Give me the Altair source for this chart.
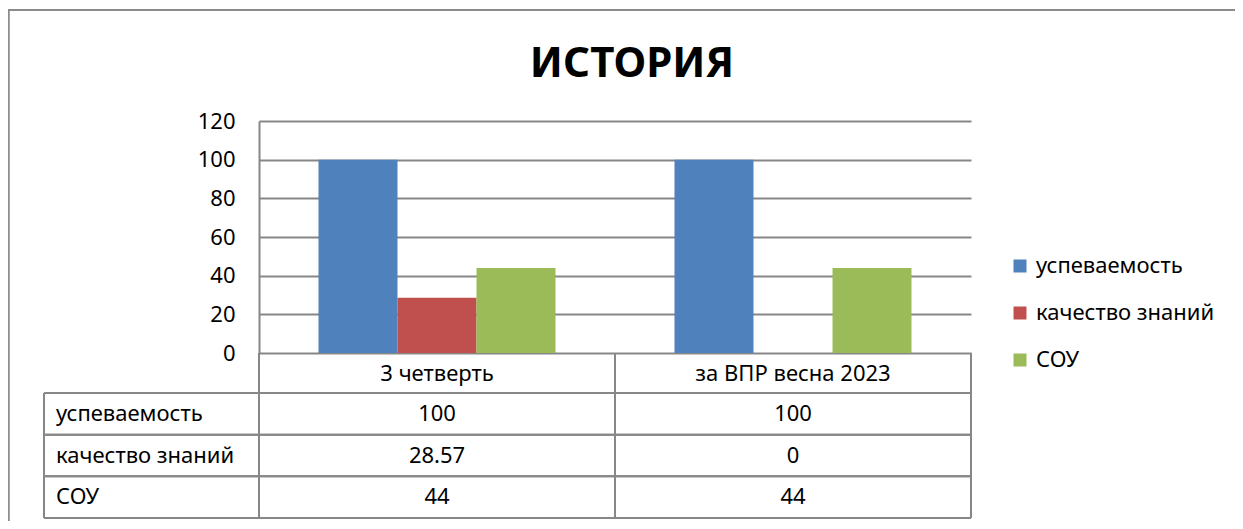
import altair as alt
import pandas as pd

title_text = ["ИСТОРИЯ"]
categories = ["3 четверть", "за ВПР весна 2023"]
series = ["успеваемость", "качество знаний", "СОУ"]
uspevaemost = [100, 100]
kachestvo = [28.57, 0]
sou = [44, 44]
colors = ["#4F81BD", "#C0504D", "#9BBB59"]
y_ticks = [0, 20, 40, 60, 80, 100, 120]

FONT = "Noto Sans"
GRID = "#878787"

values = {"успеваемость": uspevaemost, "качество знаний": kachestvo, "СОУ": sou}
rows = []
for s in series:
    for c, v in zip(categories, values[s]):
        rows.append({"cat": c, "series": s, "value": v, "label": f"{v:g}"})
df = pd.DataFrame(rows)
cat_df = pd.DataFrame({"cat": categories})
row_df = pd.DataFrame({"series": series})
title_df = pd.DataFrame({"t": title_text})

W, H = 712, 232
TABLE_TOP, TABLE_BOTTOM = 272, 397

x_scale = alt.Scale(domain=categories, paddingInner=0, paddingOuter=0)
row_scale = alt.Scale(domain=series, range=[TABLE_TOP, TABLE_BOTTOM], paddingInner=0, paddingOuter=0)

bars = alt.Chart(df).mark_bar().encode(
    x=alt.X("cat:N", scale=x_scale, axis=None),
    xOffset=alt.XOffset("series:N", sort=series,
                        scale=alt.Scale(domain=series, paddingInner=0, paddingOuter=0.753)),
    y=alt.Y("value:Q", scale=alt.Scale(domain=[0, 120], nice=False),
            axis=alt.Axis(values=y_ticks, title=None, ticks=False, grid=True,
                          gridColor=GRID, gridWidth=2, domainColor=GRID, domainWidth=2,
                          labelFontSize=22, labelFont=FONT, labelColor="#000000",
                          labelPadding=24)),
    color=alt.Color("series:N", scale=alt.Scale(domain=series, range=colors),
                    legend=alt.Legend(title=None, orient="none", legendX=750, legendY=134,
                                      symbolType="square", symbolSize=169, symbolStrokeWidth=0,
                                      labelFontSize=22, labelFont=FONT, labelColor="#000000",
                                      labelOffset=5, labelLimit=0, rowPadding=25, padding=0)),
)

title = alt.Chart(title_df).mark_text(font=FONT, fontSize=42, fontWeight="bold", color="#000000",
                                      baseline="alphabetic").encode(
    x=alt.value(373), y=alt.value(-44), text="t:N",
)

# table: header labels
header = alt.Chart(cat_df).mark_text(font=FONT, fontSize=22, color="#000000").encode(
    x=alt.X("cat:N", scale=x_scale, axis=None),
    y=alt.value(253),
    text="cat:N",
)

# table: values
cells = alt.Chart(df).mark_text(font=FONT, fontSize=22, color="#000000").encode(
    x=alt.X("cat:N", scale=x_scale, axis=None),
    y=alt.Y("series:N", scale=row_scale, axis=None),
    text="label:N",
)

# table: row labels
row_labels = alt.Chart(row_df).mark_text(font=FONT, fontSize=22, color="#000000", align="left").encode(
    x=alt.value(-203),
    y=alt.Y("series:N", scale=row_scale, axis=None),
    text="series:N",
)

# table lines
hlines_top = alt.Chart(row_df).mark_rule(color=GRID, strokeWidth=2).encode(
    x=alt.value(-215), x2=alt.value(W),
    y=alt.Y("series:N", scale=row_scale, axis=None, bandPosition=0),
)
hlines_bot = alt.Chart(row_df).mark_rule(color=GRID, strokeWidth=2).encode(
    x=alt.value(-215), x2=alt.value(W),
    y=alt.Y("series:N", scale=row_scale, axis=None, bandPosition=1),
)
vlines_l = alt.Chart(cat_df).mark_rule(color=GRID, strokeWidth=2).encode(
    x=alt.X("cat:N", scale=x_scale, axis=None, bandPosition=0),
    y=alt.value(H), y2=alt.value(TABLE_BOTTOM),
)
vlines_r = alt.Chart(cat_df).mark_rule(color=GRID, strokeWidth=2).encode(
    x=alt.X("cat:N", scale=x_scale, axis=None, bandPosition=1),
    y=alt.value(H), y2=alt.value(TABLE_BOTTOM),
)
vline_label = alt.Chart(row_df).mark_rule(color=GRID, strokeWidth=2).encode(
    x=alt.value(-215), y=alt.value(TABLE_TOP), y2=alt.value(TABLE_BOTTOM),
)

# outer frame of the chart area
frame = alt.Chart(cat_df).mark_rect(fill=None, stroke="#8c8c8c", strokeWidth=2).encode(
    x=alt.value(-250.5), x2=alt.value(1100),
    y=alt.value(-111), y2=alt.value(500),
)

chart = alt.layer(
    frame, title, bars, header, cells, row_labels,
    hlines_top, hlines_bot, vlines_l, vlines_r, vline_label,
).resolve_scale(
    y="independent", xOffset="independent"
).properties(
    width=W, height=H,
    autosize=alt.AutoSizeParams(type="none"),
    padding={"left": 251, "top": 113, "right": 264, "bottom": 168},
).configure_view(stroke=None)

chart.save("out.html", embed_options={"renderer": "svg", "actions": False})
